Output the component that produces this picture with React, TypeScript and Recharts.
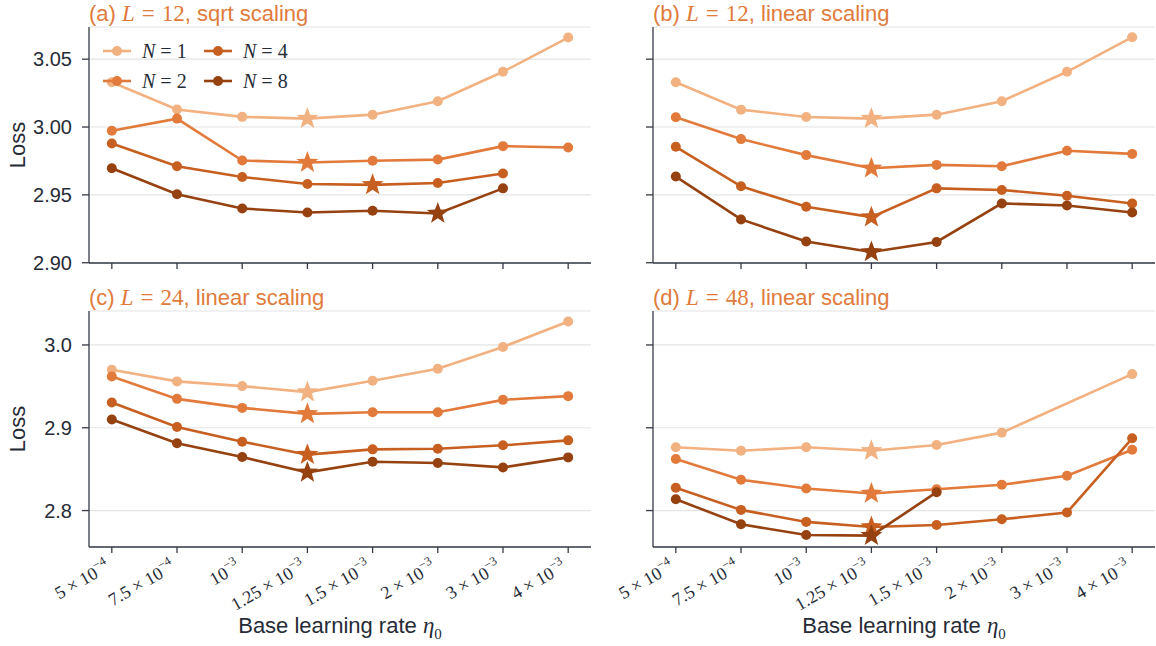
import React from 'react';
import { LineChart, Line, XAxis, YAxis, CartesianGrid, Legend } from 'recharts';

// x categories: base learning rate = mantissa × 10^exp
const rateMantissa = ['5', '7.5', '', '1.25', '1.5', '2', '3', '4'];
const rateExp = ['−4', '−4', '−3', '−3', '−3', '−3', '−3', '−3'];

const nValues = [1, 2, 4, 8];
const colors = ['#F1B181', '#E27A3B', '#C75F20', '#954110'];

// (a) L=12, sqrt scaling
const aN1 = [3.033, 3.0129, 3.0075, 3.0062, 3.0091, 3.019, 3.0407, 3.0659];
const aN2 = [2.9973, 3.0062, 2.9753, 2.9738, 2.9751, 2.976, 2.9859, 2.9849];
const aN4 = [2.9879, 2.9711, 2.9632, 2.958, 2.9574, 2.9588, 2.9657, null];
const aN8 = [2.9696, 2.9504, 2.94, 2.937, 2.9383, 2.9363, 2.9548, null];

// (b) L=12, linear scaling
const bN1 = [3.033, 3.0128, 3.0074, 3.0062, 3.0091, 3.019, 3.0407, 3.0662];
const bN2 = [3.0072, 2.9911, 2.9793, 2.9696, 2.9721, 2.9711, 2.9825, 2.9802];
const bN4 = [2.9854, 2.9563, 2.9412, 2.9336, 2.9548, 2.9536, 2.9494, 2.9437];
const bN8 = [2.9635, 2.9319, 2.9156, 2.9079, 2.9153, 2.9437, 2.9422, 2.937];

// (c) L=24, linear scaling
const cN1 = [2.9701, 2.956, 2.9503, 2.943, 2.9568, 2.9713, 2.9976, 3.0283];
const cN2 = [2.962, 2.9349, 2.924, 2.9168, 2.9188, 2.9188, 2.9337, 2.9382];
const cN4 = [2.9305, 2.901, 2.8832, 2.8675, 2.8739, 2.8747, 2.8788, 2.8848];
const cN8 = [2.9099, 2.8812, 2.8646, 2.8461, 2.859, 2.8574, 2.8521, 2.8642];

// (d) L=48, linear scaling
const dN1 = [2.8764, 2.8723, 2.8764, 2.8722, 2.8792, 2.8941, null, 2.9648];
const dN2 = [2.8622, 2.8372, 2.8267, 2.8206, 2.8257, 2.8311, 2.842, 2.8735];
const dN4 = [2.8275, 2.8008, 2.7863, 2.7802, 2.7826, 2.7895, 2.7976, 2.8873];
const dN8 = [2.8137, 2.7834, 2.7705, 2.7697, 2.8222, null, null, null];

const topTicks = [2.9, 2.95, 3.0, 3.05];
const bottomTicks = [2.8, 2.9, 3.0];

const sans = '"Liberation Sans", Arial, sans-serif';
const serif = '"Liberation Serif", "DejaVu Serif", serif';
const axisColor = '#353a46';
const textColor = '#262b36';
const titleColor = '#E07B3C';

type Vals = (number | null)[];

const argmin = (vals: Vals) => {
  let best = -1;
  vals.forEach((v, i) => {
    if (v != null && (best < 0 || v < (vals[best] as number))) best = i;
  });
  return best;
};

const starPath = (cx: number, cy: number, R: number, r: number) => {
  let d = '';
  for (let k = 0; k < 10; k++) {
    const rad = k % 2 === 0 ? R : r;
    const a = -Math.PI / 2 + (k * Math.PI) / 5;
    d += (k === 0 ? 'M' : 'L') + (cx + rad * Math.cos(a)).toFixed(2) + ',' + (cy + rad * Math.sin(a)).toFixed(2);
  }
  return d + 'Z';
};

const makeDot = (vals: Vals, color: string) => {
  const best = argmin(vals);
  return (props: any) => {
    const { cx, cy, index } = props;
    if (cx == null || cy == null || vals[index] == null) return <g key={`e${index}`} />;
    if (index === best) return <path key={`s${index}`} d={starPath(cx, cy, 11.5, 4.8)} fill={color} />;
    return <circle key={`c${index}`} cx={cx} cy={cy} r={5} fill={color} />;
  };
};

const RateTick = (props: any) => {
  const { x, y, payload } = props;
  const i = payload.value as number;
  const m = rateMantissa[i];
  return (
    <g transform={`translate(${x - 1},${y + 15}) rotate(-30)`}>
      <text textAnchor="end" fontFamily={serif} fontSize={18} fill={textColor}>
        {m ? `${m} × 10` : '10'}
        <tspan dy={-8} fontSize={12.5}>{rateExp[i]}</tspan>
      </text>
    </g>
  );
};

const EmptyTick = () => <g />;

const LegendContent = (props: any) => {
  const { payload } = props;
  return (
    <div style={{ display: 'grid', gridTemplateRows: '30px 30px', gridAutoFlow: 'column', gridAutoColumns: '101px' }}>
      {(payload || []).map((p: any, k: number) => (
        <div key={k} style={{ display: 'flex', alignItems: 'center' }}>
          <svg width={30} height={12}>
            <line x1={0} x2={28} y1={6} y2={6} stroke={p.color} strokeWidth={2.6} />
            <circle cx={14} cy={6} r={5} fill={p.color} />
          </svg>
          <span style={{ marginLeft: 9, fontFamily: serif, fontSize: 20, color: textColor }}>
            <i>N</i> = {nValues[k]}
          </span>
        </div>
      ))}
    </div>
  );
};

type PanelProps = {
  letter: string;
  L: number;
  scaling: string;
  series: Vals[];
  left: number;
  top: number;
  domain: [number, number];
  ticks: number[];
  decimals: number;
  yLabels: boolean;
  xLabels: boolean;
  legend?: boolean;
};

function Panel(p: PanelProps) {
  const rows = rateMantissa.map((_, i) => {
    const r: any = { i };
    p.series.forEach((s, k) => (r[`n${nValues[k]}`] = s[i]));
    return r;
  });
  const xh = p.xLabels ? 70 : 10;
  const height = 27 + 236 + xh;
  return (
    <div style={{ position: 'absolute', left: p.left, top: p.top }}>
      <div
        style={{
          position: 'absolute', left: 89, top: 2, whiteSpace: 'nowrap',
          fontFamily: sans, fontSize: 22, lineHeight: '24px', color: titleColor, zIndex: 2,
        }}
      >
        ({p.letter}){' '}
        <span style={{ fontFamily: serif, fontSize: 23 }}>
          <i>L</i><span style={{ margin: '0 7px' }}>=</span>{p.L}
        </span>
        , {p.scaling} scaling
      </div>
      <LineChart width={592} height={height} data={rows} margin={{ top: 27, right: 1, left: 0, bottom: 0 }}>
        <CartesianGrid vertical={false} stroke="#e4e4e4" strokeWidth={1.2} />
        <XAxis
          type="number"
          dataKey="i"
          domain={[-0.35, 7.35]}
          ticks={[0, 1, 2, 3, 4, 5, 6, 7]}
          interval={0}
          height={xh}
          tickSize={6}
          axisLine={{ stroke: axisColor, strokeWidth: 1.3 }}
          tickLine={{ stroke: axisColor, strokeWidth: 1.3 }}
          tick={p.xLabels ? <RateTick /> : <EmptyTick />}
        />
        <YAxis
          type="number"
          domain={p.domain}
          ticks={p.ticks}
          interval={0}
          allowDataOverflow
          width={89}
          tickSize={7}
          tickMargin={10}
          axisLine={{ stroke: axisColor, strokeWidth: 1.3 }}
          tickLine={{ stroke: axisColor, strokeWidth: 1.3 }}
          tick={{ fill: textColor, fontSize: 20, fontFamily: sans }}
          tickFormatter={(v: number) => (p.yLabels ? v.toFixed(p.decimals) : '')}
          label={
            p.yLabels
              ? (lp: any) => {
                  const vb = lp.viewBox || {};
                  const cy = (vb.y ?? 27) + (vb.height ?? 236) / 2;
                  return (
                    <text x={17} y={cy} transform={`rotate(-90, 17, ${cy})`} textAnchor="middle"
                      dominantBaseline="central" fontFamily={sans} fontSize={22} fill={textColor}>
                      Loss
                    </text>
                  );
                }
              : undefined
          }
        />
        {p.legend && (
          <Legend
            layout="horizontal"
            verticalAlign="middle"
            align="center"
            content={<LegendContent />}
            wrapperStyle={{ position: 'absolute', left: 103, top: 36, width: 'auto', height: 'auto' }}
          />
        )}
        {p.series.map((s, k) => (
          <Line
            key={k}
            type="linear"
            dataKey={`n${nValues[k]}`}
            name={`N=${nValues[k]}`}
            stroke={colors[k]}
            strokeWidth={2.6}
            dot={makeDot(s, colors[k])}
            activeDot={false}
            connectNulls
            isAnimationActive={false}
          />
        ))}
      </LineChart>
      {p.xLabels && (
        <div
          style={{
            position: 'absolute', left: 89, width: 502, top: 330, textAlign: 'center', whiteSpace: 'nowrap',
            fontFamily: sans, fontSize: 22, lineHeight: '24px', color: textColor,
          }}
        >
          Base learning rate <span style={{ fontFamily: serif, fontSize: 23 }}><i>η</i><sub style={{ fontSize: 15 }}>0</sub></span>
        </div>
      )}
    </div>
  );
}

export default function App() {
  return (
    <div style={{ position: 'absolute', left: 0, top: 0, width: 1156, height: 646, background: '#fff' }}>
      <Panel letter="a" L={12} scaling="sqrt" series={[aN1, aN2, aN4, aN8]} left={0} top={0}
        domain={[2.8998, 3.0737]} ticks={topTicks} decimals={2} yLabels xLabels={false} legend />
      <Panel letter="b" L={12} scaling="linear" series={[bN1, bN2, bN4, bN8]} left={564} top={0}
        domain={[2.8998, 3.0737]} ticks={topTicks} decimals={2} yLabels={false} xLabels={false} />
      <Panel letter="c" L={24} scaling="linear" series={[cN1, cN2, cN4, cN8]} left={0} top={284}
        domain={[2.756, 3.041]} ticks={bottomTicks} decimals={1} yLabels xLabels />
      <Panel letter="d" L={48} scaling="linear" series={[dN1, dN2, dN4, dN8]} left={564} top={284}
        domain={[2.756, 3.041]} ticks={bottomTicks} decimals={1} yLabels={false} xLabels />
    </div>
  );
}
